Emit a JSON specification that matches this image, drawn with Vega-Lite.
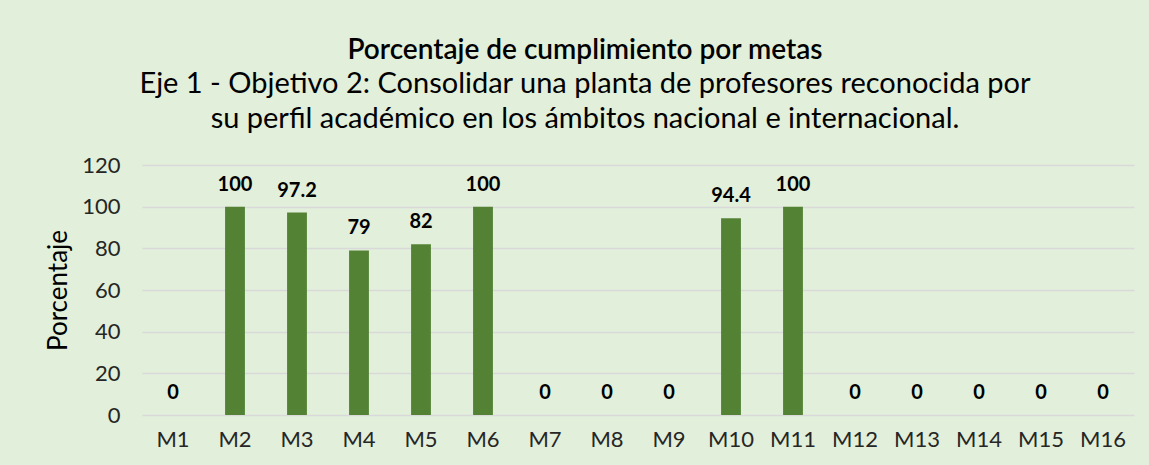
{
  "$schema": "https://vega.github.io/schema/vega-lite/v6.json",
  "width": 992,
  "height": 250,
  "autosize": {"type": "none"},
  "padding": {"left": 142, "top": 165, "right": 15, "bottom": 50},
  "background": "#E2EFDA",
  "title": {
    "text": "Porcentaje de cumplimiento por metas",
    "subtitle": ["Eje 1 - Objetivo 2: Consolidar una planta de profesores reconocida por", "su perfil académico en los ámbitos nacional e internacional."],
    "anchor": "middle",
    "frame": "group",
    "dx": -53,
    "offset": 20,
    "font": "Lato",
    "fontSize": 28,
    "fontWeight": 600,
    "color": "#000000",
    "subtitleFont": "Lato",
    "subtitleFontSize": 29,
    "subtitleColor": "#000000",
    "subtitleLineHeight": 35,
    "subtitlePadding": 5
  },
  "data": {
    "values": [
      {"meta": "M1", "valor": 0},
      {"meta": "M2", "valor": 100},
      {"meta": "M3", "valor": 97.2},
      {"meta": "M4", "valor": 79},
      {"meta": "M5", "valor": 82},
      {"meta": "M6", "valor": 100},
      {"meta": "M7", "valor": 0},
      {"meta": "M8", "valor": 0},
      {"meta": "M9", "valor": 0},
      {"meta": "M10", "valor": 94.4},
      {"meta": "M11", "valor": 100},
      {"meta": "M12", "valor": 0},
      {"meta": "M13", "valor": 0},
      {"meta": "M14", "valor": 0},
      {"meta": "M15", "valor": 0},
      {"meta": "M16", "valor": 0}
    ]
  },
  "encoding": {
    "x": {
      "field": "meta",
      "type": "nominal",
      "sort": null,
      "scale": {"paddingInner": 0.68, "paddingOuter": 0.34},
      "axis": {
        "title": null,
        "labelAngle": 0,
        "ticks": false,
        "domain": false,
        "labelFont": "Lato",
        "labelFontSize": 22,
        "labelColor": "#262626",
        "labelPadding": 14
      }
    },
    "y": {
      "field": "valor",
      "type": "quantitative",
      "scale": {"domain": [0, 120]},
      "axis": {
        "title": "Porcentaje",
        "values": [0, 20, 40, 60, 80, 100, 120],
        "ticks": false,
        "domain": false,
        "grid": true,
        "gridColor": "#D9D9D9",
        "gridWidth": 1.5,
        "labelFont": "Lato",
        "labelFontSize": 22,
        "labelColor": "#262626",
        "labelPadding": 22,
        "titleFont": "Lato",
        "titleFontSize": 26,
        "titleFontWeight": "normal",
        "titleColor": "#000000",
        "titleAngle": -90,
        "titleX": -84,
        "titleY": 125,
        "titleAlign": "center",
        "titleBaseline": "middle"
      }
    }
  },
  "layer": [
    {"mark": {"type": "bar", "color": "#548235"}},
    {
      "mark": {
        "type": "text",
        "baseline": "middle",
        "dy": -22,
        "font": "Lato",
        "fontSize": 20,
        "fontWeight": "bold",
        "color": "#000000"
      },
      "encoding": {"text": {"field": "valor", "type": "quantitative"}}
    }
  ],
  "config": {"view": {"stroke": null}}
}
